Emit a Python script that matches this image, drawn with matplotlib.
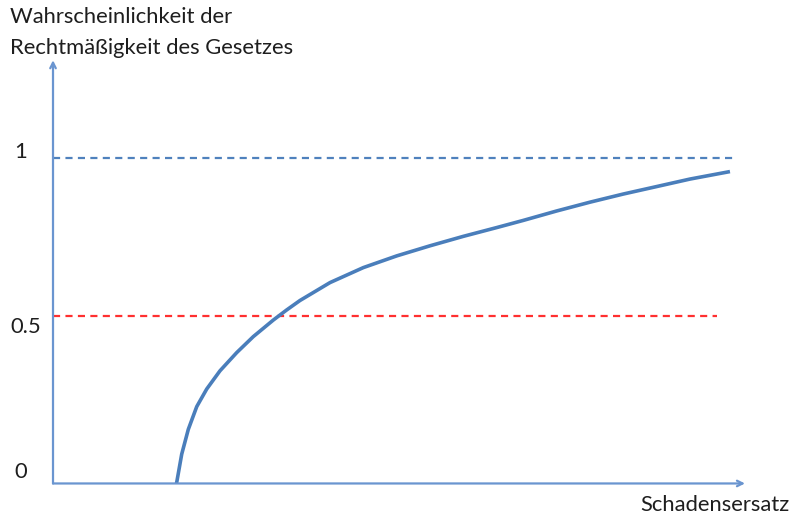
import numpy as np
import matplotlib.pyplot as plt

plt.rcParams['font.family'] = ['Lato', 'DejaVu Sans']

# Kurve: Schadensersatz -> Wahrscheinlichkeit
schaden = [1.785, 1.860, 1.955, 2.077, 2.221, 2.413, 2.655, 2.894, 3.184, 3.377, 3.569,
           4.003, 4.484, 4.967, 5.448, 5.929, 6.412, 6.796, 7.279, 7.760, 8.241,
           8.724, 9.205, 9.783]
wahrsch = [0.0, 0.090, 0.166, 0.236, 0.290, 0.346, 0.402, 0.451, 0.502, 0.533, 0.562,
           0.617, 0.663, 0.699, 0.730, 0.759, 0.786, 0.808, 0.837, 0.864, 0.889,
           0.912, 0.935, 0.958]

y_ticks = [0, 0.5, 1]
y_labels = ['0', '0.5', '1']
linie_eins = 1.0
linie_halb = 0.515

fig = plt.figure(figsize=(7.91, 5.17), dpi=100)
ax = fig.add_axes([0, 0, 1, 1])
ax.set_xlim(-0.766, 10.665)
ax.set_ylim(-0.103, 1.485)
ax.axis('off')

achse = '#6A95D0'
# Achsen mit Pfeilen
ax.annotate('', xy=(10.0, 0), xytext=(0, 0),
            arrowprops=dict(arrowstyle='->', color=achse, lw=1.6, shrinkA=0, shrinkB=0))
ax.annotate('', xy=(0, 1.30), xytext=(0, 0),
            arrowprops=dict(arrowstyle='->', color=achse, lw=1.6, shrinkA=0, shrinkB=0))

# gestrichelte Linien
ax.plot([0, 9.85], [linie_eins, linie_eins], ls=(0, (3.2, 2.4)), color='#4F81BD', lw=1.6)
ax.plot([0, 9.6], [linie_halb, linie_halb], ls=(0, (3.2, 2.4)), color='#FF3030', lw=1.6)

ax.plot(schaden, wahrsch, color='#4A7EBB', lw=2.6, solid_capstyle='butt',
        solid_joinstyle='round')

txt = '#1E1E1E'
label_pos = {0: (-0.47, 0.035), 0.5: (-0.40, 0.481), 1: (-0.47, 1.017)}
for v, lab in zip(y_ticks, y_labels):
    px, py = label_pos[v]
    ax.text(px, py, lab, ha='center', va='center', fontsize=15.8, color=txt)

ax.text(-0.62, 1.433, 'Wahrscheinlichkeit der', ha='left', va='center', fontsize=15.8, color=txt)
ax.text(-0.62, 1.338, 'Rechtmäßigkeit des Gesetzes', ha='left', va='center', fontsize=15.8, color=txt)
ax.text(10.65, -0.066, 'Schadensersatz', ha='right', va='center', fontsize=15.8, color=txt)

fig.savefig('out.png', dpi=100)
